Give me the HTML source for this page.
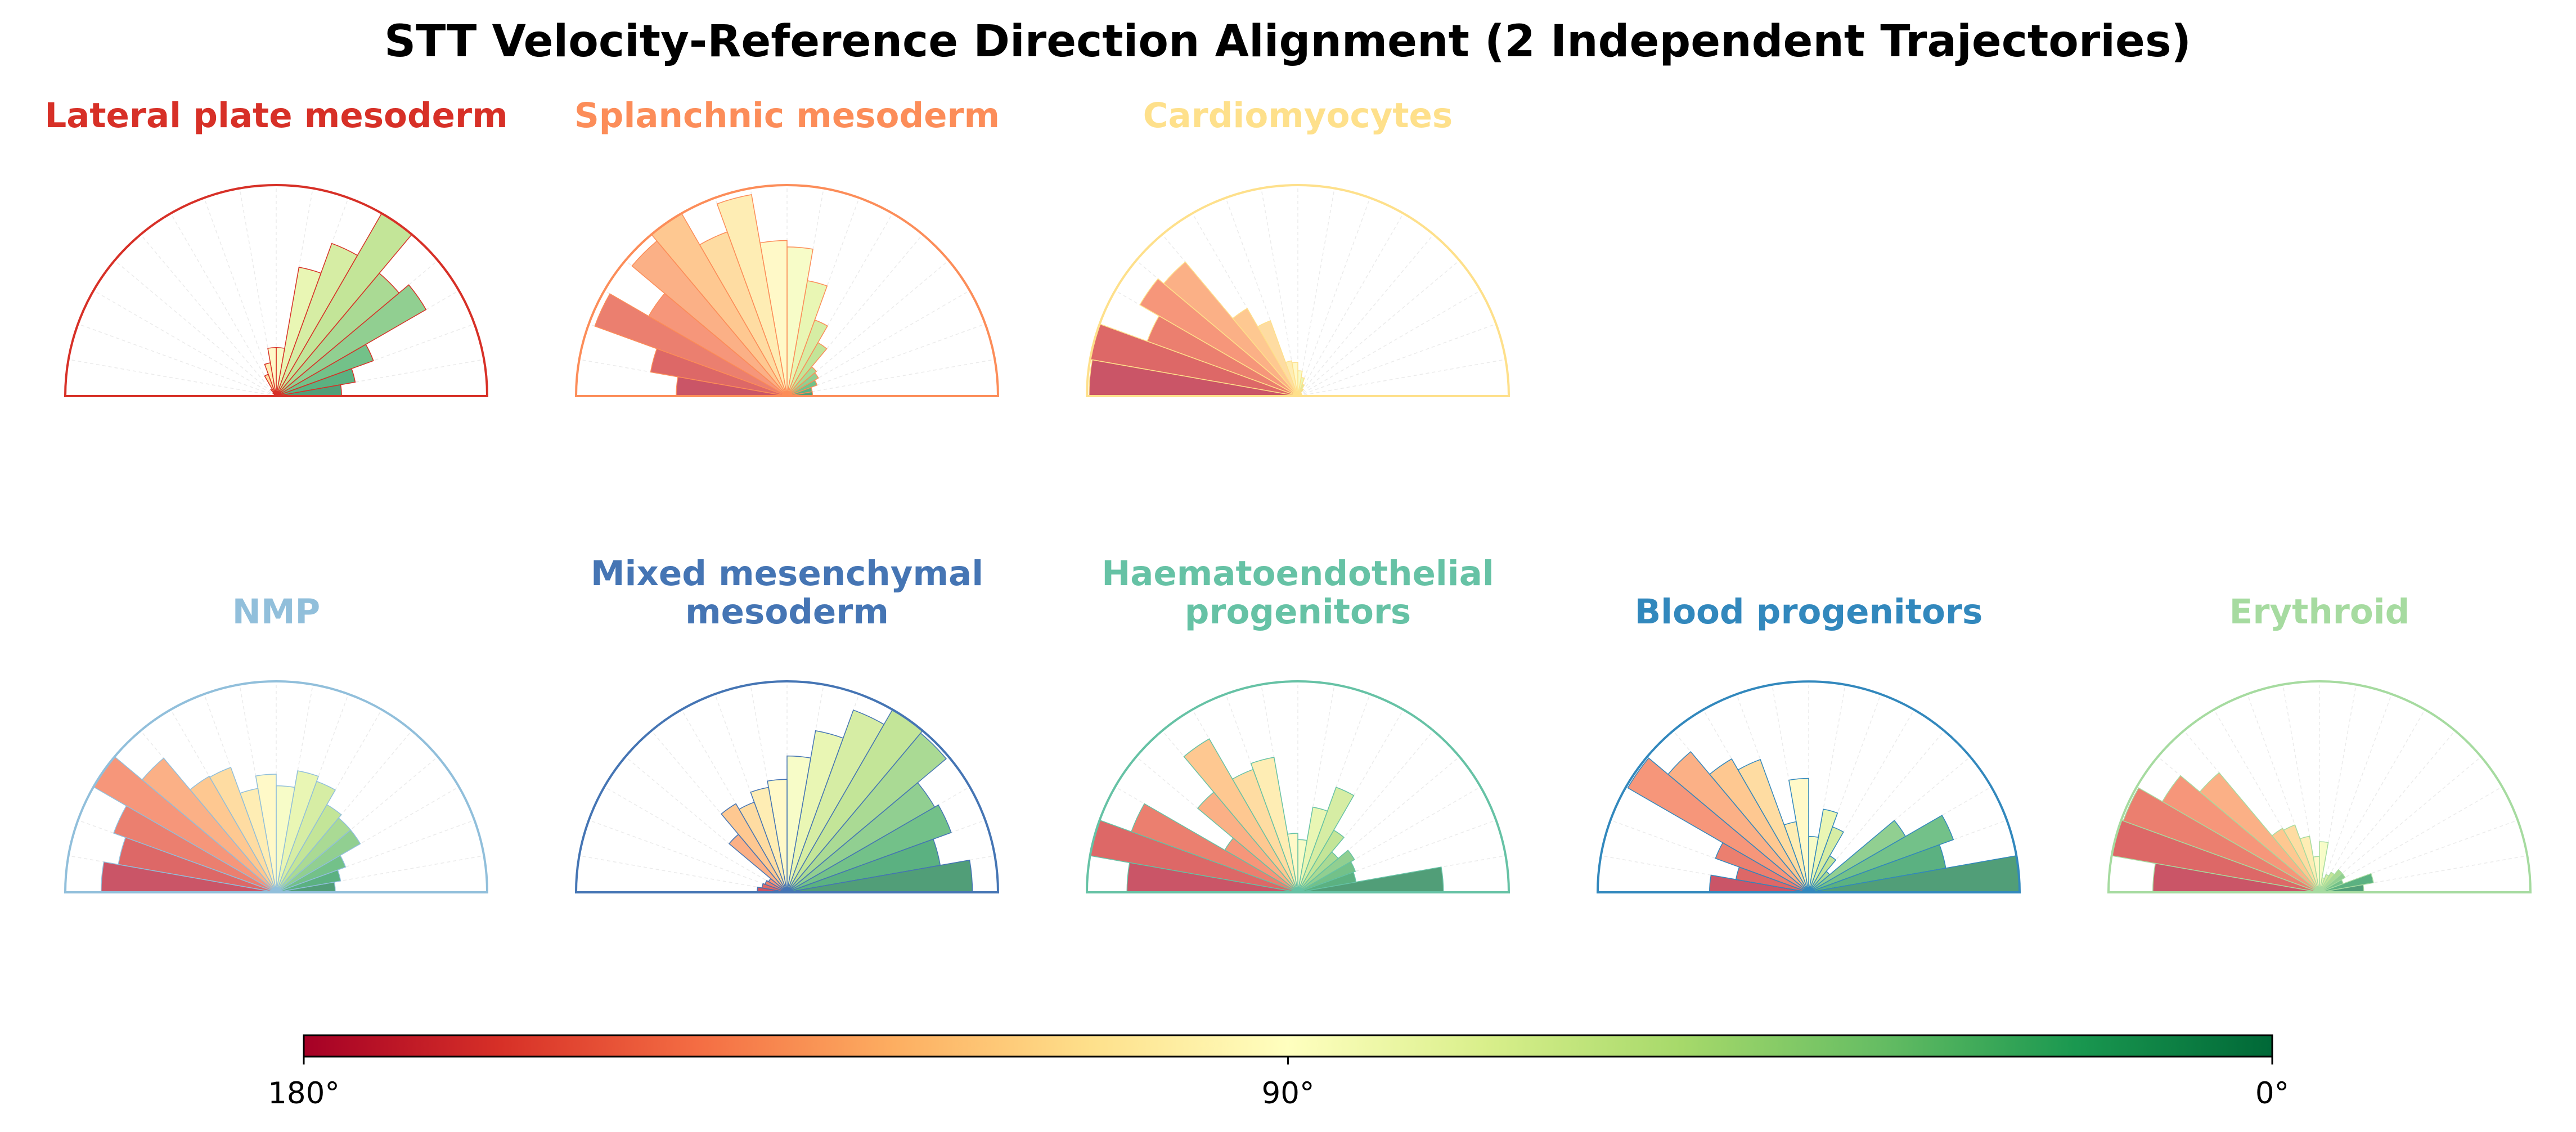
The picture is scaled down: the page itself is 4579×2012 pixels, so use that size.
<!DOCTYPE html>
<html><head><meta charset="utf-8"><style>
html,body{margin:0;padding:0;background:#fff}
svg{display:block}
</style></head><body>
<svg id="chart" width="4579" height="2012" viewBox="0 0 4579 2012" xmlns="http://www.w3.org/2000/svg" font-family="'DejaVu Sans','Liberation Sans',sans-serif">
<defs>
<linearGradient id="cbar" x1="0" y1="0" x2="1" y2="0">
<stop offset="0" stop-color="#a50026"/><stop offset="0.1" stop-color="#d73027"/><stop offset="0.2" stop-color="#f46d43"/><stop offset="0.3" stop-color="#fdae61"/><stop offset="0.4" stop-color="#fee08b"/><stop offset="0.5" stop-color="#ffffbf"/><stop offset="0.6" stop-color="#d9ef8b"/><stop offset="0.7" stop-color="#a6d96a"/><stop offset="0.8" stop-color="#66bd63"/><stop offset="0.9" stop-color="#1a9850"/><stop offset="1" stop-color="#006837"/>
</linearGradient>
</defs>
<text x="2289" y="100" text-anchor="middle" font-size="78" font-weight="bold" fill="#000">STT Velocity-Reference Direction Alignment (2 Independent Trajectories)</text>
<g id="panels"></g>
<g>
<rect x="540" y="1840" width="3499" height="38" fill="url(#cbar)" stroke="#000" stroke-width="3"/>
<line x1="540" y1="1878" x2="540" y2="1892" stroke="#000" stroke-width="3"/>
<line x1="2289.5" y1="1878" x2="2289.5" y2="1892" stroke="#000" stroke-width="3"/>
<line x1="4039" y1="1878" x2="4039" y2="1892" stroke="#000" stroke-width="3"/>
<text x="540" y="1961" text-anchor="middle" font-size="53">180°</text>
<text x="2289.5" y="1961" text-anchor="middle" font-size="53">90°</text>
<text x="4039" y="1961" text-anchor="middle" font-size="53">0°</text>
</g>
</svg>
<script>
// bins: 0-10°, 10-20°, ..., 170-180° ; values relative to each panel's max
const panelNames = ["Lateral plate mesoderm","Splanchnic mesoderm","Cardiomyocytes","NMP","Mixed mesenchymal|mesoderm","Haematoendothelial|progenitors","Blood progenitors","Erythroid"];
const panelColors = ["#d73027","#fc8d59","#fee08b","#91bfdb","#4575b4","#66c2a5","#3288bd","#a6dba0"];
const lateralPlate = [0.31,0.38,0.49,0.82,0.76,1.0,0.77,0.62,0.23,0.23,0.16,0.11,0.04,0.02,0.01,0.01,0.01,0.01];
const splanchnic = [0.12,0.12,0.15,0.17,0.18,0.29,0.38,0.55,0.70,0.73,0.96,0.82,0.99,0.95,0.75,0.96,0.65,0.52];
const cardiomyocytes = [0.02,0.02,0.02,0.02,0.02,0.04,0.06,0.09,0.12,0.16,0.17,0.38,0.48,0.83,0.865,0.76,1.0,0.99];
const nmp = [0.28,0.31,0.35,0.46,0.46,0.48,0.56,0.585,0.505,0.56,0.50,0.63,0.635,0.83,1.0,0.82,0.76,0.83];
const mixedMesenchymal = [0.87,0.73,0.82,0.80,0.975,0.99,0.91,0.77,0.64,0.53,0.50,0.45,0.48,0.355,0.10,0.11,0.12,0.14];
const haematoendothelial = [0.69,0.28,0.29,0.31,0.25,0.34,0.53,0.41,0.25,0.28,0.65,0.62,0.84,0.62,0.40,0.84,1.0,0.81];
const bloodProgenitors = [1.0,0.66,0.73,0.53,0.13,0.20,0.33,0.40,0.265,0.54,0.34,0.67,0.73,0.87,0.99,0.47,0.35,0.47];
const erythroid = [0.21,0.26,0.12,0.14,0.14,0.11,0.09,0.07,0.24,0.17,0.27,0.34,0.35,0.74,0.86,0.99,1.0,0.79];
const panelValues = [lateralPlate,splanchnic,cardiomyocytes,nmp,mixedMesenchymal,haematoendothelial,bloodProgenitors,erythroid];

const NS="http://www.w3.org/2000/svg";
const stops=["#a50026","#d73027","#f46d43","#fdae61","#fee08b","#ffffbf","#d9ef8b","#a6d96a","#66bd63","#1a9850","#006837"].map(h=>[parseInt(h.slice(1,3),16),parseInt(h.slice(3,5),16),parseInt(h.slice(5,7),16)]);
function cmap(t){t=Math.max(0,Math.min(1,t));const p=t*10,i=Math.min(9,Math.floor(p)),f=p-i;const a=stops[i],b=stops[i+1];return "rgb("+a.map((v,k)=>Math.round(v+(b[k]-v)*f)).join(",")+")";}
const R=375, colX=[491,1399,2307,3215,4123], rowY=[704,1586];
function pt(cx,cy,r,deg){const a=deg*Math.PI/180;return [cx+r*Math.cos(a),cy-r*Math.sin(a)];}
const root=document.getElementById('panels');
panelValues.forEach((vals,pi)=>{
  const cx= pi<3?colX[pi]:colX[pi-3], cy= pi<3?rowY[0]:rowY[1];
  const col=panelColors[pi];
  const g=document.createElementNS(NS,'g');
  
  
  root.appendChild(g);
  for(let d=10;d<180;d+=10){const [x,y]=pt(cx,cy,R,d);const l=document.createElementNS(NS,'line');
    l.setAttribute('x1',cx);l.setAttribute('y1',cy);l.setAttribute('x2',x);l.setAttribute('y2',y);
    l.setAttribute('stroke','#ebebeb');l.setAttribute('stroke-width','1.5');l.setAttribute('stroke-dasharray','6,5');
    
    
    g.appendChild(l);}
  const maxV=Math.max(...vals);
  vals.forEach((v,bi)=>{
    const r=R*v/maxV, a0=bi*10, a1=bi*10+10;
    const [x0,y0]=pt(cx,cy,r,a0),[x1,y1]=pt(cx,cy,r,a1);
    const p=document.createElementNS(NS,'path');
    p.setAttribute('d',`M${cx},${cy} L${x0},${y0} A${r},${r} 0 0 0 ${x1},${y1} Z`);
    p.setAttribute('fill',cmap(1-(a0+5)/180));p.setAttribute('fill-opacity','0.7');
    p.setAttribute('stroke',col);p.setAttribute('stroke-width','1.5');
    
    
    g.appendChild(p);
  });
  const f=document.createElementNS(NS,'path');
  f.setAttribute('d',`M${cx-R},${cy} A${R},${R} 0 0 1 ${cx+R},${cy} Z`);
  f.setAttribute('fill','none');f.setAttribute('stroke',col);f.setAttribute('stroke-width','4');
  
  
  g.appendChild(f);
  const lines=panelNames[pi].split('|');
  const t=document.createElementNS(NS,'text');
  t.setAttribute('x',cx);t.setAttribute('text-anchor','middle');t.setAttribute('font-size','61');
  t.setAttribute('font-weight','bold');t.setAttribute('fill',col);
  
  
  const base = pi<3?226:(lines.length>1?1040:1108);
  lines.forEach((ln,li)=>{const s=document.createElementNS(NS,'tspan');s.setAttribute('x',cx);s.setAttribute('y',base+li*68);s.textContent=ln;t.appendChild(s);});
  g.appendChild(t);
});
</script>
</body></html>
